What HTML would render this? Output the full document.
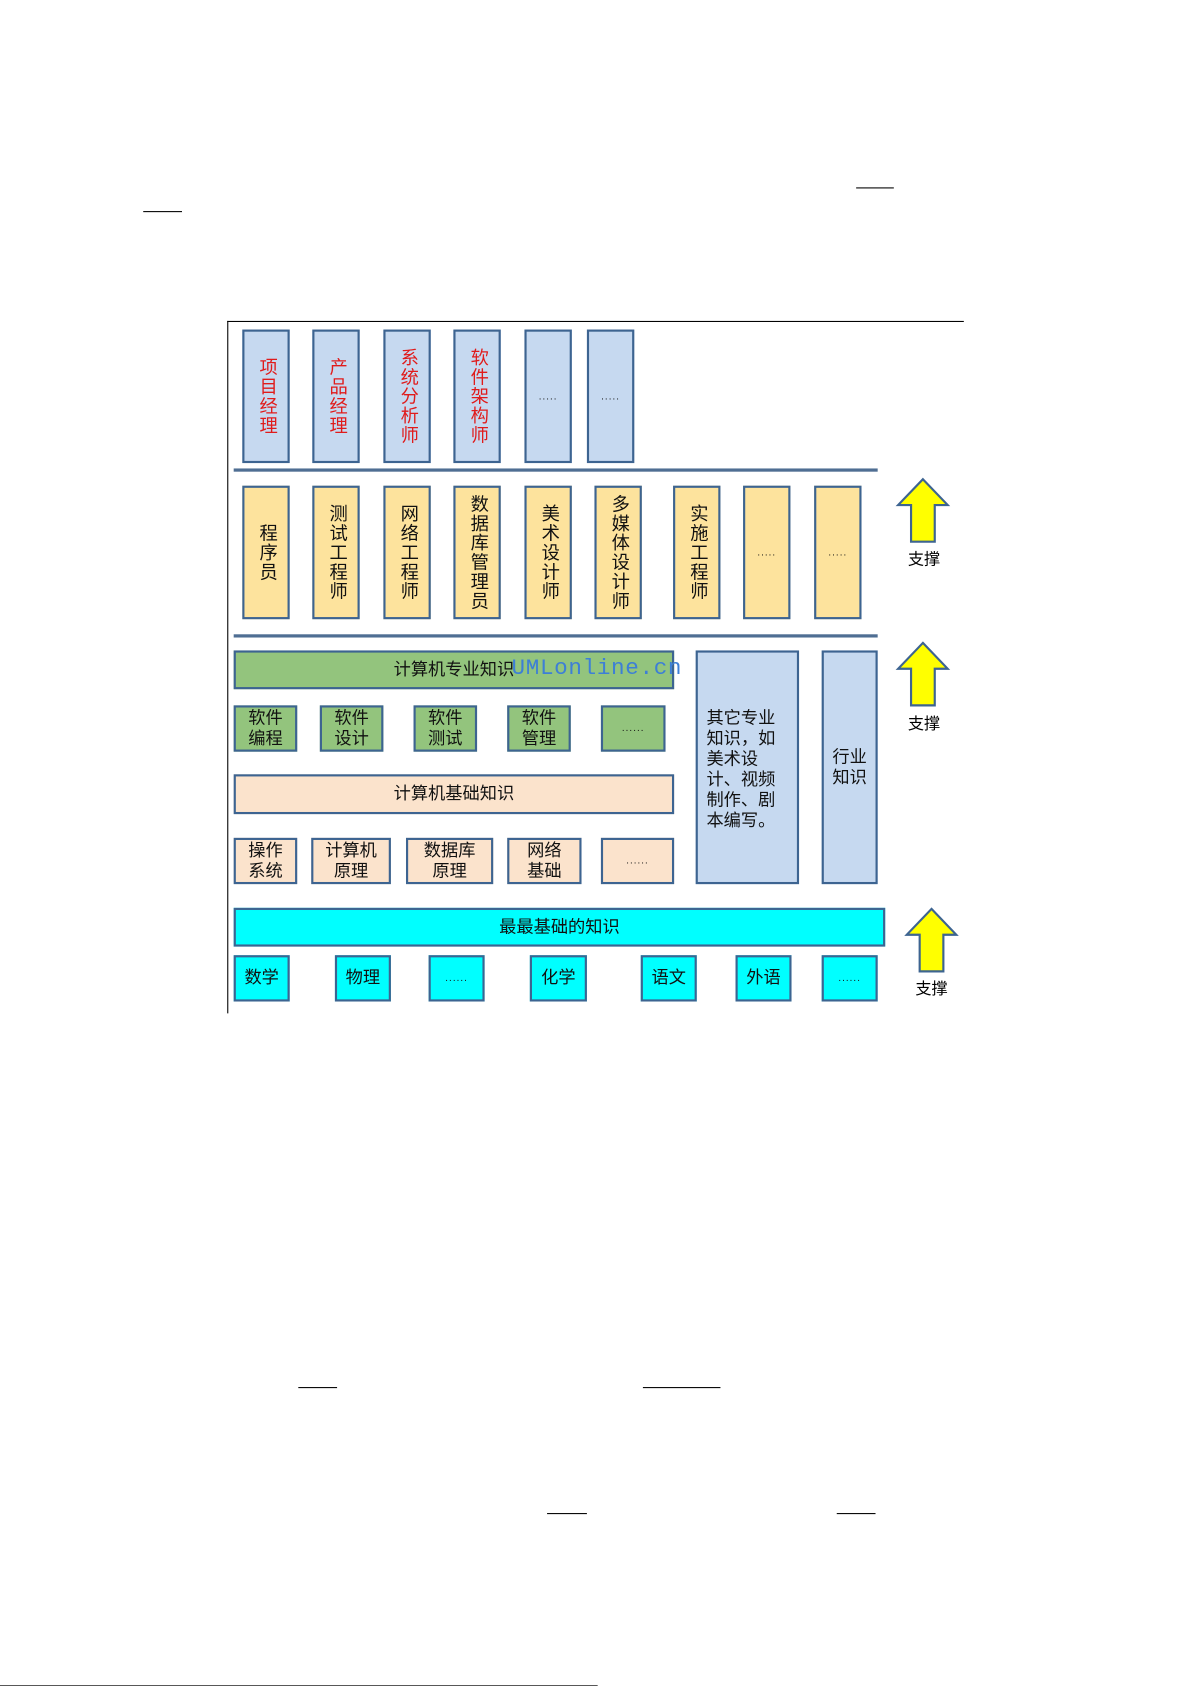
<!DOCTYPE html>
<html><head><meta charset="utf-8"><style>
html,body{margin:0;padding:0;background:#fff;}
body{width:1191px;height:1685px;overflow:hidden;position:relative;}
#w{position:absolute;left:0;top:0;width:1106px;height:1565px;transform:scale(1.0769);transform-origin:0 0;font-family:"Liberation Sans","Noto Sans CJK SC",sans-serif;}
.b{position:absolute;box-sizing:border-box;border:2px solid #3d6491;display:flex;align-items:center;justify-content:center;text-align:center;font-size:16px;line-height:19px;color:#111;}
.v{writing-mode:vertical-rl;text-orientation:upright;font-size:17px;line-height:20px;letter-spacing:1px;}
.bl{background:#c6d9f0;}
.or{background:#fde39d;}
.gr{background:#93c47d;}
.be{background:#fbe3cc;}
.cy{background:#00ffff;}
.r{color:#e01b1b;}
.d{font-size:9px;letter-spacing:1px;}
.h{position:absolute;background:#000;height:1px;}
.sep{position:absolute;height:3px;background:#4f6e93;left:217px;width:598px;}
.lab{position:absolute;font-size:15px;}
</style></head><body><div id="w">
<div class="h" style="left:795px;top:174px;width:35px"></div>
<div class="h" style="left:133px;top:196px;width:36px"></div>
<div class="h" style="left:277px;top:1288px;width:36px"></div>
<div class="h" style="left:597px;top:1288px;width:72px"></div>
<div class="h" style="left:508px;top:1405px;width:37px"></div>
<div class="h" style="left:777px;top:1405px;width:36px"></div>
<div class="h" style="left:0;top:1565px;width:555px"></div>

<div class="h" style="left:211px;top:298px;width:684px"></div>
<div style="position:absolute;left:211px;top:298px;width:1px;height:643px;background:#000"></div>

<div class="b bl v r" style="left:225px;top:306px;width:44px;height:124px">项目经理</div>
<div class="b bl v r" style="left:290px;top:306px;width:44px;height:124px">产品经理</div>
<div class="b bl v r" style="left:356px;top:306px;width:44px;height:124px">系统分析师</div>
<div class="b bl v r" style="left:421px;top:306px;width:44px;height:124px">软件架构师</div>
<div class="b bl d" style="left:487px;top:306px;width:44px;height:124px">.....</div>
<div class="b bl d" style="left:545px;top:306px;width:44px;height:124px">.....</div>
<div class="sep" style="top:435px"></div>

<div class="b or v" style="left:225px;top:451px;width:44px;height:124px">程序员</div>
<div class="b or v" style="left:290px;top:451px;width:44px;height:124px">测试工程师</div>
<div class="b or v" style="left:356px;top:451px;width:44px;height:124px">网络工程师</div>
<div class="b or v" style="left:421px;top:451px;width:44px;height:124px">数据库管理员</div>
<div class="b or v" style="left:487px;top:451px;width:44px;height:124px">美术设计师</div>
<div class="b or v" style="left:552px;top:451px;width:44px;height:124px">多媒体设计师</div>
<div class="b or v" style="left:625px;top:451px;width:44px;height:124px">实施工程师</div>
<div class="b or d" style="left:690px;top:451px;width:44px;height:124px">.....</div>
<div class="b or d" style="left:756px;top:451px;width:44px;height:124px">.....</div>
<div class="sep" style="top:589px"></div>

<div class="b gr" style="left:217px;top:604px;width:409px;height:36px">计算机专业知识</div>
<div style="position:absolute;left:475px;top:610px;font-family:'Liberation Mono',monospace;font-size:21px;color:#3d7fd6;letter-spacing:0.6px">UMLonline.cn</div>
<div class="b gr" style="left:217px;top:655px;width:59px;height:43px">软件<br>编程</div>
<div class="b gr" style="left:297px;top:655px;width:59px;height:43px">软件<br>设计</div>
<div class="b gr" style="left:384px;top:655px;width:59px;height:43px">软件<br>测试</div>
<div class="b gr" style="left:471px;top:655px;width:59px;height:43px">软件<br>管理</div>
<div class="b gr d" style="left:558px;top:655px;width:60px;height:43px">......</div>
<div class="b be" style="left:217px;top:719px;width:409px;height:37px">计算机基础知识</div>
<div class="b be" style="left:217px;top:778px;width:59px;height:43px">操作<br>系统</div>
<div class="b be" style="left:289px;top:778px;width:74px;height:43px">计算机<br>原理</div>
<div class="b be" style="left:377px;top:778px;width:81px;height:43px">数据库<br>原理</div>
<div class="b be" style="left:471px;top:778px;width:69px;height:43px">网络<br>基础</div>
<div class="b be d" style="left:558px;top:778px;width:68px;height:43px">......</div>
<div class="b bl" style="left:646px;top:604px;width:96px;height:217px;align-items:flex-start;justify-content:flex-start;text-align:left;padding:52px 0 0 8px;line-height:19px">其它专业<br>知识，如<br>美术设<br>计、视频<br>制作、剧<br>本编写。</div>
<div class="b bl" style="left:763px;top:604px;width:52px;height:217px">行业<br>知识</div>

<div class="b cy" style="left:217px;top:843px;width:605px;height:36px">最最基础的知识</div>
<div class="b cy" style="left:217px;top:887px;width:52px;height:43px">数学</div>
<div class="b cy" style="left:311px;top:887px;width:52px;height:43px">物理</div>
<div class="b cy d" style="left:398px;top:887px;width:52px;height:43px">......</div>
<div class="b cy" style="left:492px;top:887px;width:53px;height:43px">化学</div>
<div class="b cy" style="left:595px;top:887px;width:52px;height:43px">语文</div>
<div class="b cy" style="left:683px;top:887px;width:52px;height:43px">外语</div>
<div class="b cy d" style="left:763px;top:887px;width:52px;height:43px">......</div>

<svg style="position:absolute;left:0;top:0" width="1106" height="1000">
<g fill="#ffff00" stroke="#3d6491" stroke-width="2">
<polygon points="857,445 880,469 868,469 868,503 846,503 846,469 834,469"/>
<polygon points="857,597 880,621 868,621 868,655 846,655 846,621 834,621"/>
<polygon points="865,844 888,868 876,868 876,902 854,902 854,868 842,868"/>
</g></svg>
<div class="lab" style="left:843px;top:508px">支撑</div>
<div class="lab" style="left:843px;top:661px">支撑</div>
<div class="lab" style="left:850px;top:907px">支撑</div>
</div></body></html>
